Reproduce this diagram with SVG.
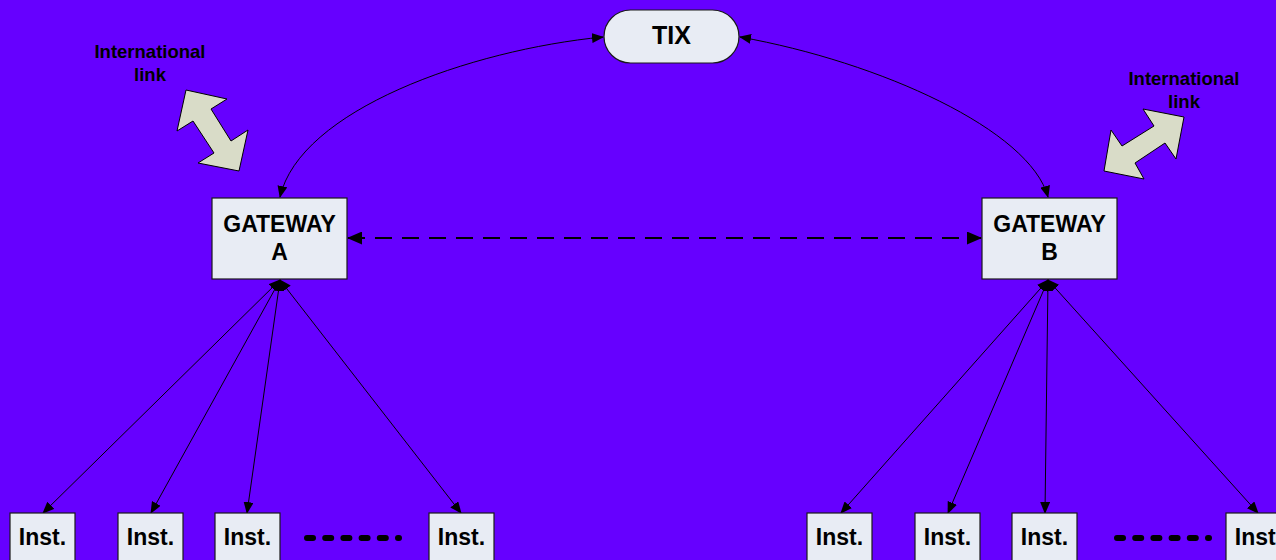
<svg xmlns="http://www.w3.org/2000/svg" width="1276" height="560" viewBox="0 0 1276 560">
<style>
.node{fill:#e8ecf4;stroke:#1a1a1a;stroke-width:1.2}
.lbl{font-family:"Liberation Sans",Arial,sans-serif;font-weight:bold;fill:#000;text-anchor:middle}
.conn{fill:none;stroke:#000;stroke-width:1}
.big{fill:#d9dcc8;stroke:#000;stroke-width:1}
.dots{fill:none;stroke:#000;stroke-width:6;stroke-linecap:round;stroke-dasharray:6 12.2}
</style>
<defs>
<marker id="ah" markerUnits="userSpaceOnUse" markerWidth="12" markerHeight="10" refX="11" refY="5" orient="auto-start-reverse">
<path d="M0,0 L12,5 L0,10 Z" fill="#000"/>
</marker>
<marker id="ahb" markerUnits="userSpaceOnUse" markerWidth="15" markerHeight="13" refX="14" refY="6.5" orient="auto-start-reverse">
<path d="M0,0 L15,6.5 L0,13 Z" fill="#000"/>
</marker>
</defs>
<rect width="1276" height="560" fill="#6600ff"/>
<g id="connectors">
<path class="conn" d="M280,197 C300,110 470,50 603,37" marker-start="url(#ah)" marker-end="url(#ah)"/>
<path class="conn" d="M740,37 C880,62 1030,130 1048,197" marker-start="url(#ah)" marker-end="url(#ah)"/>
<line x1="348" y1="238" x2="981" y2="238" stroke="#000" stroke-width="2.2" stroke-dasharray="17 10" marker-start="url(#ahb)" marker-end="url(#ahb)"/>
<line class="conn" x1="280" y1="280" x2="43" y2="513" marker-start="url(#ah)" marker-end="url(#ah)"/>
<line class="conn" x1="280" y1="280" x2="151" y2="513" marker-start="url(#ah)" marker-end="url(#ah)"/>
<line class="conn" x1="280" y1="280" x2="247" y2="513" marker-start="url(#ah)" marker-end="url(#ah)"/>
<line class="conn" x1="280" y1="280" x2="461" y2="513" marker-start="url(#ah)" marker-end="url(#ah)"/>
<line class="conn" x1="1048" y1="280" x2="841" y2="513" marker-start="url(#ah)" marker-end="url(#ah)"/>
<line class="conn" x1="1048" y1="280" x2="948" y2="513" marker-start="url(#ah)" marker-end="url(#ah)"/>
<line class="conn" x1="1048" y1="280" x2="1045" y2="513" marker-start="url(#ah)" marker-end="url(#ah)"/>
<line class="conn" x1="1048" y1="280" x2="1258" y2="513" marker-start="url(#ah)" marker-end="url(#ah)"/>
</g>
<g id="intl-link-left">
<polygon class="big" points="186,90 227,99 211,109 231,141 248,130 239,171 198,163 214,153 193,121 177,131"/>
<text class="lbl" font-size="18.5" x="150" y="58">International</text>
<text class="lbl" font-size="18.5" x="150" y="81">link</text>
</g>
<g id="intl-link-right">
<polygon class="big" points="1143,109 1184,117 1176,159 1165,143 1135,163 1144,179 1104,171 1111,130 1122,146 1154,126"/>
<text class="lbl" font-size="18.5" x="1184" y="85">International</text>
<text class="lbl" font-size="18.5" x="1184" y="108">link</text>
</g>
<g id="tix">
<rect class="node" x="604" y="10" width="135" height="53" rx="26.5" ry="26.5"/>
<text class="lbl" font-size="25" x="671.5" y="44">TIX</text>
</g>
<g id="gateway-a">
<rect class="node" x="212" y="198" width="135" height="81"/>
<text class="lbl" font-size="23" x="279.5" y="232">GATEWAY</text>
<text class="lbl" font-size="23" x="279.5" y="260">A</text>
</g>
<g id="gateway-b">
<rect class="node" x="982" y="198" width="135" height="81"/>
<text class="lbl" font-size="23" x="1049.5" y="232">GATEWAY</text>
<text class="lbl" font-size="23" x="1049.5" y="260">B</text>
</g>
<g id="inst-a1"><rect class="node" x="10" y="513" width="65" height="60"/><text class="lbl" font-size="23" x="42.5" y="545">Inst.</text></g>
<g id="inst-a2"><rect class="node" x="118" y="513" width="65" height="60"/><text class="lbl" font-size="23" x="150.5" y="545">Inst.</text></g>
<g id="inst-a3"><rect class="node" x="215" y="513" width="65" height="60"/><text class="lbl" font-size="23" x="247.5" y="545">Inst.</text></g>
<g id="inst-a4"><rect class="node" x="429" y="513" width="65" height="60"/><text class="lbl" font-size="23" x="461.5" y="545">Inst.</text></g>
<g id="inst-b1"><rect class="node" x="807" y="513" width="65" height="60"/><text class="lbl" font-size="23" x="839.5" y="545">Inst.</text></g>
<g id="inst-b2"><rect class="node" x="915" y="513" width="65" height="60"/><text class="lbl" font-size="23" x="947.5" y="545">Inst.</text></g>
<g id="inst-b3"><rect class="node" x="1012" y="513" width="65" height="60"/><text class="lbl" font-size="23" x="1044.5" y="545">Inst.</text></g>
<g id="inst-b4"><rect class="node" x="1226" y="513" width="65" height="60"/><text class="lbl" font-size="23" x="1258.5" y="545">Inst.</text></g>
<g id="ellipsis">
<line class="dots" x1="307" y1="538" x2="399" y2="538"/>
<line class="dots" x1="1117" y1="538" x2="1209" y2="538"/>
</g>
</svg>
